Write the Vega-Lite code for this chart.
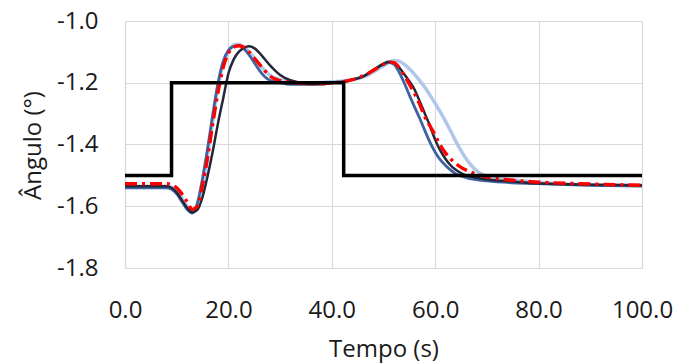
{
  "$schema": "https://vega.github.io/schema/vega-lite/v6.json",
  "width": 517,
  "height": 247,
  "autosize": "none",
  "padding": {"left": 125, "top": 21, "right": 36, "bottom": 95},
  "background": "white",
  "config": {
    "view": {"stroke": null},
    "font": "Open Sans"
  },
  "datasets": {
    "ref": [
      {"t": 0, "v": -1.5}, {"t": 9, "v": -1.2}, {"t": 42.3, "v": -1.5}, {"t": 100, "v": -1.5}
    ],
    "curves": [
      {"s": "L", "t": 0, "v": -1.535}, {"s": "L", "t": 8, "v": -1.535}, {"s": "L", "t": 10, "v": -1.55}, {"s": "L", "t": 12, "v": -1.6}, {"s": "L", "t": 13, "v": -1.615}, {"s": "L", "t": 14, "v": -1.6}, {"s": "L", "t": 15, "v": -1.53}, {"s": "L", "t": 16, "v": -1.43}, {"s": "L", "t": 17, "v": -1.32}, {"s": "L", "t": 18, "v": -1.21}, {"s": "L", "t": 19, "v": -1.14}, {"s": "L", "t": 20, "v": -1.1}, {"s": "L", "t": 21, "v": -1.078}, {"s": "L", "t": 22, "v": -1.075}, {"s": "L", "t": 23, "v": -1.085}, {"s": "L", "t": 24, "v": -1.1}, {"s": "L", "t": 25, "v": -1.12}, {"s": "L", "t": 26, "v": -1.14}, {"s": "L", "t": 27, "v": -1.16}, {"s": "L", "t": 28, "v": -1.175}, {"s": "L", "t": 30, "v": -1.19}, {"s": "L", "t": 33, "v": -1.2}, {"s": "L", "t": 36, "v": -1.2}, {"s": "L", "t": 40, "v": -1.197}, {"s": "L", "t": 44, "v": -1.19}, {"s": "L", "t": 47, "v": -1.175}, {"s": "L", "t": 50, "v": -1.145}, {"s": "L", "t": 52, "v": -1.128}, {"s": "L", "t": 53, "v": -1.13}, {"s": "L", "t": 54, "v": -1.14}, {"s": "L", "t": 55, "v": -1.155}, {"s": "L", "t": 56, "v": -1.173}, {"s": "L", "t": 57, "v": -1.193}, {"s": "L", "t": 58, "v": -1.215}, {"s": "L", "t": 59, "v": -1.24}, {"s": "L", "t": 60, "v": -1.267}, {"s": "L", "t": 61, "v": -1.295}, {"s": "L", "t": 62, "v": -1.325}, {"s": "L", "t": 63, "v": -1.357}, {"s": "L", "t": 64, "v": -1.39}, {"s": "L", "t": 65, "v": -1.42}, {"s": "L", "t": 66, "v": -1.447}, {"s": "L", "t": 67, "v": -1.468}, {"s": "L", "t": 68, "v": -1.485}, {"s": "L", "t": 69, "v": -1.496}, {"s": "L", "t": 70, "v": -1.503}, {"s": "L", "t": 72, "v": -1.51}, {"s": "L", "t": 75, "v": -1.515}, {"s": "L", "t": 80, "v": -1.523}, {"s": "L", "t": 90, "v": -1.53}, {"s": "L", "t": 100, "v": -1.532},

      {"s": "B", "t": 0, "v": -1.54}, {"s": "B", "t": 8, "v": -1.54}, {"s": "B", "t": 9, "v": -1.545}, {"s": "B", "t": 10, "v": -1.56}, {"s": "B", "t": 11, "v": -1.585}, {"s": "B", "t": 12, "v": -1.61}, {"s": "B", "t": 13, "v": -1.622}, {"s": "B", "t": 14, "v": -1.59}, {"s": "B", "t": 15, "v": -1.51}, {"s": "B", "t": 16, "v": -1.41}, {"s": "B", "t": 17, "v": -1.3}, {"s": "B", "t": 18, "v": -1.2}, {"s": "B", "t": 19, "v": -1.13}, {"s": "B", "t": 20, "v": -1.095}, {"s": "B", "t": 21, "v": -1.082}, {"s": "B", "t": 22, "v": -1.08}, {"s": "B", "t": 23, "v": -1.09}, {"s": "B", "t": 24, "v": -1.11}, {"s": "B", "t": 25, "v": -1.135}, {"s": "B", "t": 26, "v": -1.16}, {"s": "B", "t": 27, "v": -1.18}, {"s": "B", "t": 28, "v": -1.192}, {"s": "B", "t": 30, "v": -1.2}, {"s": "B", "t": 32, "v": -1.205}, {"s": "B", "t": 35, "v": -1.205}, {"s": "B", "t": 38, "v": -1.203}, {"s": "B", "t": 40, "v": -1.2}, {"s": "B", "t": 42, "v": -1.198}, {"s": "B", "t": 44, "v": -1.19}, {"s": "B", "t": 46, "v": -1.18}, {"s": "B", "t": 48, "v": -1.16}, {"s": "B", "t": 50, "v": -1.14}, {"s": "B", "t": 51, "v": -1.135}, {"s": "B", "t": 52, "v": -1.14}, {"s": "B", "t": 53, "v": -1.165}, {"s": "B", "t": 54, "v": -1.2}, {"s": "B", "t": 55, "v": -1.24}, {"s": "B", "t": 56, "v": -1.278}, {"s": "B", "t": 57, "v": -1.315}, {"s": "B", "t": 58, "v": -1.355}, {"s": "B", "t": 59, "v": -1.393}, {"s": "B", "t": 60, "v": -1.425}, {"s": "B", "t": 61, "v": -1.45}, {"s": "B", "t": 62, "v": -1.468}, {"s": "B", "t": 63, "v": -1.483}, {"s": "B", "t": 64, "v": -1.495}, {"s": "B", "t": 66, "v": -1.507}, {"s": "B", "t": 70, "v": -1.518}, {"s": "B", "t": 80, "v": -1.527}, {"s": "B", "t": 90, "v": -1.532}, {"s": "B", "t": 100, "v": -1.535},

      {"s": "K", "t": 0, "v": -1.535}, {"s": "K", "t": 8, "v": -1.535}, {"s": "K", "t": 9, "v": -1.54}, {"s": "K", "t": 10, "v": -1.555}, {"s": "K", "t": 11, "v": -1.58}, {"s": "K", "t": 12, "v": -1.605}, {"s": "K", "t": 13, "v": -1.62}, {"s": "K", "t": 14, "v": -1.612}, {"s": "K", "t": 15, "v": -1.57}, {"s": "K", "t": 16, "v": -1.5}, {"s": "K", "t": 17, "v": -1.42}, {"s": "K", "t": 18, "v": -1.33}, {"s": "K", "t": 19, "v": -1.25}, {"s": "K", "t": 20, "v": -1.17}, {"s": "K", "t": 21, "v": -1.125}, {"s": "K", "t": 22, "v": -1.1}, {"s": "K", "t": 23, "v": -1.087}, {"s": "K", "t": 24, "v": -1.082}, {"s": "K", "t": 25, "v": -1.088}, {"s": "K", "t": 26, "v": -1.103}, {"s": "K", "t": 27, "v": -1.123}, {"s": "K", "t": 28, "v": -1.143}, {"s": "K", "t": 29, "v": -1.16}, {"s": "K", "t": 30, "v": -1.175}, {"s": "K", "t": 32, "v": -1.192}, {"s": "K", "t": 34, "v": -1.2}, {"s": "K", "t": 36, "v": -1.205}, {"s": "K", "t": 38, "v": -1.205}, {"s": "K", "t": 40, "v": -1.2}, {"s": "K", "t": 42, "v": -1.197}, {"s": "K", "t": 44, "v": -1.19}, {"s": "K", "t": 46, "v": -1.18}, {"s": "K", "t": 48, "v": -1.16}, {"s": "K", "t": 50, "v": -1.138}, {"s": "K", "t": 51, "v": -1.132}, {"s": "K", "t": 52, "v": -1.135}, {"s": "K", "t": 53, "v": -1.15}, {"s": "K", "t": 54, "v": -1.172}, {"s": "K", "t": 55, "v": -1.195}, {"s": "K", "t": 56, "v": -1.222}, {"s": "K", "t": 57, "v": -1.26}, {"s": "K", "t": 58, "v": -1.3}, {"s": "K", "t": 59, "v": -1.34}, {"s": "K", "t": 60, "v": -1.385}, {"s": "K", "t": 61, "v": -1.42}, {"s": "K", "t": 62, "v": -1.447}, {"s": "K", "t": 63, "v": -1.468}, {"s": "K", "t": 64, "v": -1.482}, {"s": "K", "t": 65, "v": -1.493}, {"s": "K", "t": 66, "v": -1.5}, {"s": "K", "t": 68, "v": -1.508}, {"s": "K", "t": 70, "v": -1.513}, {"s": "K", "t": 75, "v": -1.52}, {"s": "K", "t": 80, "v": -1.526}, {"s": "K", "t": 90, "v": -1.53}, {"s": "K", "t": 100, "v": -1.532},

      {"s": "R", "t": 0, "v": -1.527}, {"s": "R", "t": 8, "v": -1.527}, {"s": "R", "t": 10, "v": -1.54}, {"s": "R", "t": 11, "v": -1.56}, {"s": "R", "t": 12, "v": -1.585}, {"s": "R", "t": 13, "v": -1.61}, {"s": "R", "t": 14, "v": -1.6}, {"s": "R", "t": 15, "v": -1.53}, {"s": "R", "t": 16, "v": -1.44}, {"s": "R", "t": 17, "v": -1.33}, {"s": "R", "t": 18, "v": -1.23}, {"s": "R", "t": 19, "v": -1.15}, {"s": "R", "t": 20, "v": -1.105}, {"s": "R", "t": 21, "v": -1.085}, {"s": "R", "t": 22, "v": -1.08}, {"s": "R", "t": 23, "v": -1.085}, {"s": "R", "t": 24, "v": -1.1}, {"s": "R", "t": 25, "v": -1.12}, {"s": "R", "t": 26, "v": -1.14}, {"s": "R", "t": 27, "v": -1.16}, {"s": "R", "t": 28, "v": -1.178}, {"s": "R", "t": 30, "v": -1.193}, {"s": "R", "t": 33, "v": -1.2}, {"s": "R", "t": 36, "v": -1.203}, {"s": "R", "t": 40, "v": -1.2}, {"s": "R", "t": 44, "v": -1.19}, {"s": "R", "t": 47, "v": -1.17}, {"s": "R", "t": 50, "v": -1.14}, {"s": "R", "t": 51, "v": -1.133}, {"s": "R", "t": 52, "v": -1.135}, {"s": "R", "t": 53, "v": -1.15}, {"s": "R", "t": 54, "v": -1.175}, {"s": "R", "t": 55, "v": -1.205}, {"s": "R", "t": 56, "v": -1.235}, {"s": "R", "t": 57, "v": -1.27}, {"s": "R", "t": 58, "v": -1.31}, {"s": "R", "t": 59, "v": -1.34}, {"s": "R", "t": 60, "v": -1.37}, {"s": "R", "t": 61, "v": -1.403}, {"s": "R", "t": 62, "v": -1.428}, {"s": "R", "t": 63, "v": -1.447}, {"s": "R", "t": 64, "v": -1.462}, {"s": "R", "t": 65, "v": -1.474}, {"s": "R", "t": 66, "v": -1.483}, {"s": "R", "t": 67, "v": -1.49}, {"s": "R", "t": 68, "v": -1.497}, {"s": "R", "t": 70, "v": -1.505}, {"s": "R", "t": 75, "v": -1.516}, {"s": "R", "t": 80, "v": -1.522}, {"s": "R", "t": 90, "v": -1.528}, {"s": "R", "t": 100, "v": -1.532}
    ]
  },
  "encoding": {
    "x": {
      "field": "t", "type": "quantitative",
      "scale": {"domain": [0, 100], "nice": false, "zero": false},
      "axis": {
        "title": "Tempo (s)",
        "values": [0, 20, 40, 60, 80, 100],
        "labelExpr": "format(datum.value, '.1f')",
        "ticks": false, "tickSize": 0,
        "labelPadding": 49, "labelBaseline": "alphabetic",
        "labelFont": "Open Sans", "labelFontSize": 24, "labelColor": "#1a1a1a",
        "labelFlush": false, "labelOverlap": false,
        "titleFont": "Open Sans", "titleFontSize": 24, "titleFontWeight": "normal", "titleColor": "#1a1a1a",
        "titleBaseline": "alphabetic", "titleY": 88,
        "grid": true, "gridColor": "#d9d9d9", "gridWidth": 1.2,
        "domain": true, "domainColor": "#d9d9d9", "domainWidth": 1.2
      }
    },
    "y": {
      "field": "v", "type": "quantitative",
      "scale": {"domain": [-1.8, -1.0], "nice": false, "zero": false},
      "axis": {
        "title": "Ângulo (°)",
        "values": [-1.8, -1.6, -1.4, -1.2, -1.0],
        "labelExpr": "replace(format(datum.value, '.1f'), '\u2212', '-')",
        "ticks": false, "tickSize": 0,
        "labelPadding": 27,
        "labelFont": "Open Sans", "labelFontSize": 24, "labelColor": "#1a1a1a",
        "labelFlush": false, "labelOverlap": false,
        "titleFont": "Open Sans", "titleFontSize": 24, "titleFontWeight": "normal", "titleColor": "#1a1a1a",
        "titleBaseline": "alphabetic", "titleX": -85, "titleY": 124, "titleAngle": -90, "titleAlign": "center",
        "grid": true, "gridColor": "#d9d9d9", "gridWidth": 1.2,
        "domain": true, "domainColor": "#d9d9d9", "domainWidth": 1.2
      }
    }
  },
  "layer": [
    {
      "data": {"name": "curves"},
      "transform": [{"filter": "datum.s === 'L'"}],
      "mark": {"type": "line", "interpolate": "monotone", "color": "#a9c1e8", "strokeWidth": 3.5, "opacity": 0.9}
    },
    {
      "data": {"name": "curves"},
      "transform": [{"filter": "datum.s === 'B'"}],
      "mark": {"type": "line", "interpolate": "monotone", "color": "#3f63a0", "strokeWidth": 2.8}
    },
    {
      "data": {"name": "curves"},
      "transform": [{"filter": "datum.s === 'K'"}],
      "mark": {"type": "line", "interpolate": "monotone", "color": "#22283a", "strokeWidth": 2.5}
    },
    {
      "data": {"name": "curves"},
      "transform": [{"filter": "datum.s === 'R'"}],
      "mark": {"type": "line", "interpolate": "monotone", "color": "#ff0000", "strokeWidth": 3.4, "strokeDash": [12, 5, 3, 5]}
    },
    {
      "data": {"name": "ref"},
      "mark": {"type": "line", "interpolate": "step-after", "color": "#000000", "strokeWidth": 3.5}
    }
  ]
}
